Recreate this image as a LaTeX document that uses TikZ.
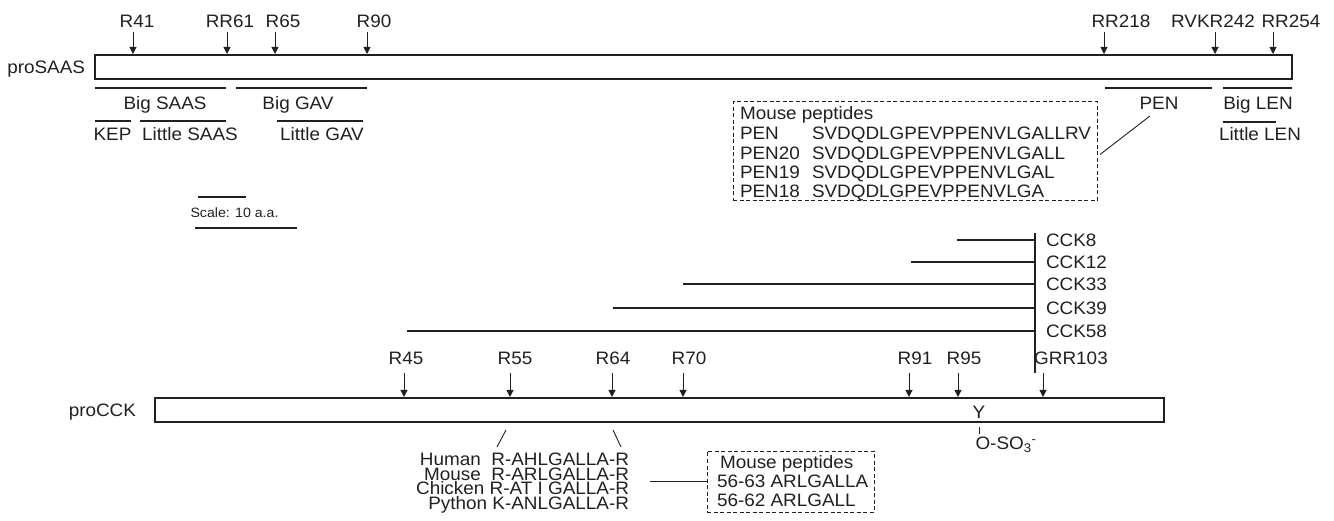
\documentclass[tikz,border=0pt]{standalone}
\usepackage{fontspec}
\setmainfont{Liberation Sans}[FakeStretch=1.05]
\usetikzlibrary{arrows.meta}
\definecolor{ink}{RGB}{35,31,32}
\begin{document}
\begin{tikzpicture}[x=1pt,y=-1pt,
  lbl/.style={font=\fontsize{18}{19}\selectfont, inner sep=0pt, outer sep=0pt, text=ink, anchor=base},
  smalllbl/.style={font=\fontsize{13.5}{14}\selectfont, inner sep=0pt, outer sep=0pt, text=ink, anchor=base},
  cut/.style={draw=ink, line width=1pt, -{Triangle[width=7pt,length=7pt]}},
  pep/.style={draw=ink, line width=2.7pt},
  thin/.style={draw=ink, line width=0.9pt},
  prot/.style={draw=ink, line width=2.6pt, inner sep=0pt, outer sep=0pt, anchor=north west, fill=white},
  pepbox/.style={draw=ink, line width=1pt, dash pattern=on 4pt off 2.5pt, inner sep=0pt, outer sep=0pt, anchor=north west},
  tight/.style={text height=11pt, text depth=1pt},
]
\useasboundingbox (0,0) rectangle (1334,521);

% ---------------- proSAAS ----------------
\node[lbl, anchor=base east] (saaslbl) at (85,73.5) {proSAAS};
\node[prot, minimum width=1197pt, minimum height=24pt] (saas) at (95,55) {};
\foreach \ax/\lx/\t [count=\i] in {133/137/R41, 227/230/RR61, 275/283/R65, 367/374/R90, 1104/1121/RR218, 1215/1213/RVKR242, 1273/1291/RR254} {
  \node[lbl] (sl\i) at (\lx,27.5) {\t};
  \coordinate (sa\i) at (\ax,32);
  \draw[cut] (sa\i) -- ([yshift=1pt]sa\i |- saas.north);
}
% peptide lines
\draw[pep] (95,88) -- (226,88);
\node[lbl] (bigsaas) at (165,109.5) {Big SAAS};
\draw[pep] (236,88) -- (367,88);
\node[lbl] (biggav) at (298,109.5) {Big GAV};
\draw[pep] (95,121) -- (131,121);
\node[lbl] (kep) at (112.5,140.5) {KEP};
\draw[pep] (140,121) -- (226,121);
\node[lbl] (littlesaas) at (190,140.5) {Little SAAS};
\draw[pep] (277,121) -- (363,121);
\node[lbl] (littlegav) at (322,140.5) {Little GAV};
\draw[pep] (1105,88) -- (1212,88);
\node[lbl] (penlbl) at (1159,109.5) {PEN};
\draw[pep] (1223,88) -- (1292,88);
\node[lbl] (biglen) at (1258,109.5) {Big LEN};
\draw[pep] (1223,122) -- (1276,122);
\node[lbl] (littlelen) at (1260,141) {Little LEN};

% mouse peptides box (PEN)
\node[pepbox, minimum width=364pt, minimum height=99pt] (penbox) at (733,102) {};
\node[lbl, anchor=base west] (mp1) at (740,120) {Mouse peptides};
\foreach \nm/\sq/\yy [count=\i] in {PEN/SVDQDLGPEVPPENVLGALLRV/140, PEN20/SVDQDLGPEVPPENVLGALL/159.5, PEN19/SVDQDLGPEVPPENVLGAL/178.5, PEN18/SVDQDLGPEVPPENVLGA/197.5} {
  \node[lbl, anchor=base west] (pn\i) at (740,\yy) {\nm};
  \node[lbl, anchor=base west] (ps\i) at (812,\yy) {\sq};
}
\coordinate (penend) at (1150,116);
\draw[thin] ([xshift=3pt,yshift=-3pt]penbox.east) -- (penend);

% scale bar
\draw[draw=ink, line width=1.1pt] (198,197) -- (246,197);
\node[smalllbl] (scalelbl) at (234.5,218) {Scale: 10 a.a.};
\draw[draw=ink, line width=1.3pt] (195,228) -- (297,228);

% ---------------- proCCK ----------------
\node[lbl, anchor=base east] (ccklbl) at (136,416.5) {proCCK};
\node[prot, minimum width=1009pt, minimum height=24pt] (cck) at (155,398) {};
\foreach \ax/\lx/\t [count=\i] in {404/406/R45, 510/515/R55, 612/613/R64, 683/689/R70, 909/915/R91, 958/964/R95, 1043/1071/GRR103} {
  \node[lbl] (cl\i) at (\lx,365) {\t};
  \coordinate (ca\i) at (\ax,373);
  \draw[cut] (ca\i) -- ([yshift=1pt]ca\i |- cck.north);
}
% CCK peptides
\coordinate (vtop) at (1035,233);
\coordinate (vbot) at (1035,373);
\draw[draw=ink, line width=1.3pt] (vtop) -- (vbot);
\foreach \xs/\yy/\t [count=\i] in {957/240/CCK8, 911/262/CCK12, 683/284/CCK33, 613/308/CCK39, 407/331/CCK58} {
  \draw[pep] (\xs,\yy) -- (1035,\yy);
  \node[lbl, anchor=base west] (ck\i) at (1046,\yy+6.5) {\t};
}
% tyrosine sulfation
\node[lbl] (tyr) at (979,418.5) {Y};
\coordinate (tk1) at (979,427);
\coordinate (tk2) at (979,434);
\draw[thin] (tk1) -- (tk2);
\node[lbl, anchor=base west] (so3) at (975.5,449.5) {O-SO\textsubscript{3}\textsuperscript{-}};

% species alignment
\coordinate (s1a) at (506,430); \coordinate (s1b) at (497,447);
\coordinate (s2a) at (613,430); \coordinate (s2b) at (621,447);
\draw[thin] (s1a) -- (s1b);
\draw[thin] (s2a) -- (s2b);
\node[lbl, tight, anchor=base east] (hum) at (629,465.5) {Human\ \ R-AHLGALLA-R};
\node[lbl, tight, anchor=base east] (mou) at (629,480.2) {Mouse\ \ R-ARLGALLA-R};
\node[lbl, tight, anchor=base east] (chi) at (629,494.9) {Chicken R-AT I GALLA-R};
\node[lbl, tight, anchor=base east] (pyt) at (629,509.6) {Python K-ANLGALLA-R};

% mouse peptides box (CCK)
\node[pepbox, minimum width=167pt, minimum height=61pt] (cckbox) at (707,451) {};
\node[lbl, anchor=base west] (mq1) at (720,468.5) {Mouse peptides};
\node[lbl, anchor=base west] (mq2) at (717,487.5) {56-63 ARLGALLA};
\node[lbl, anchor=base west] (mq3) at (717,506.5) {56-62 ARLGALL};
\coordinate (cstart) at (650,481.5);
\draw[thin] (cstart) -- (cckbox.west);
\end{tikzpicture}
\end{document}
